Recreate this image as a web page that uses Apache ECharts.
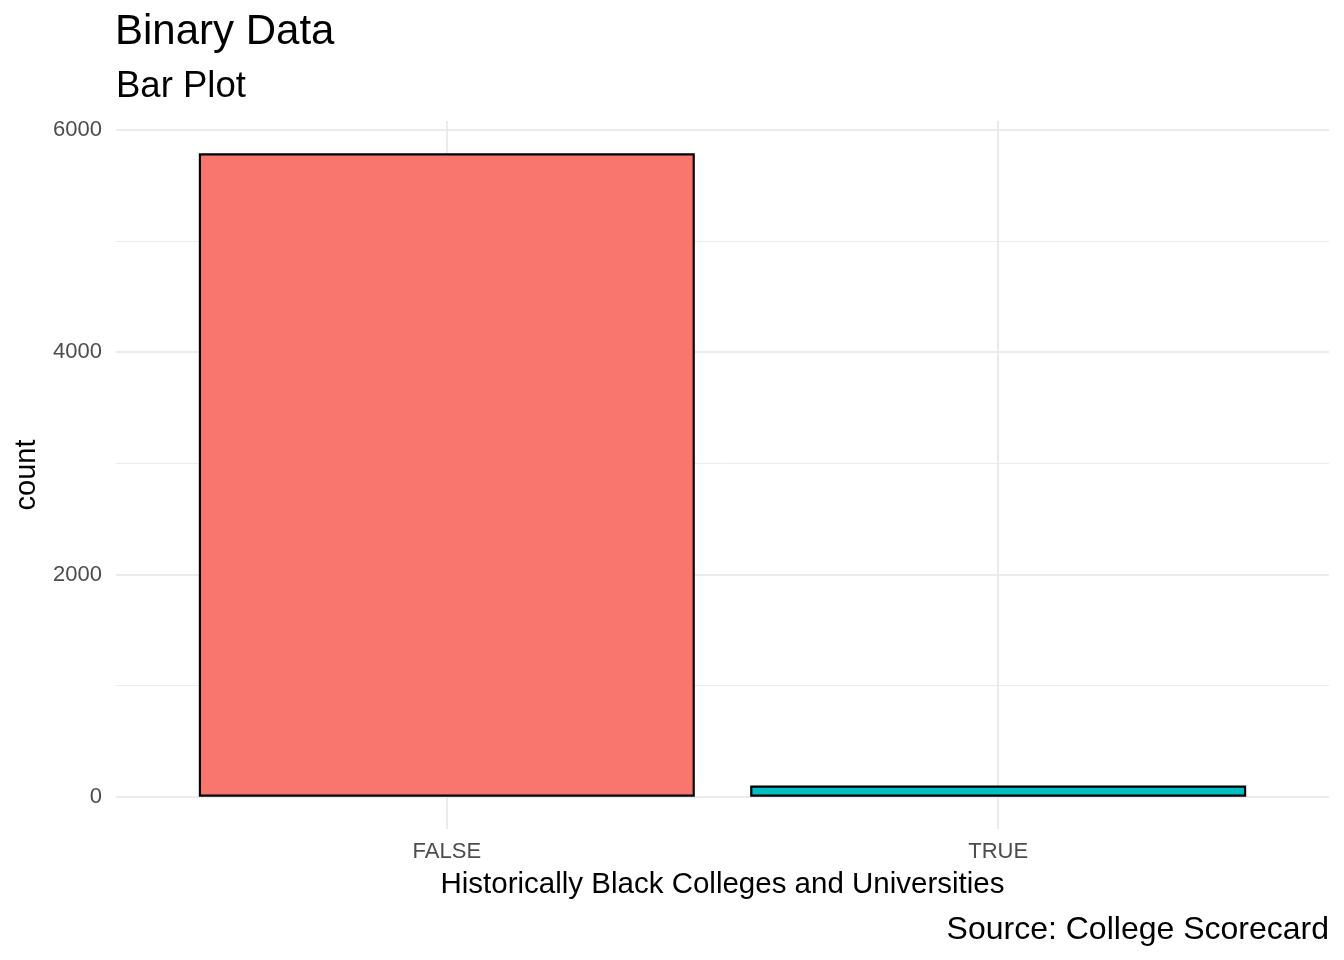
<!DOCTYPE html>
<html>
<head>
<meta charset="utf-8">
<title>Binary Data</title>
<script src="https://cdn.jsdelivr.net/npm/echarts@6/dist/echarts.min.js"></script>
<style>
  html, body { margin: 0; padding: 0; background: #fff; }
  #chart01 { width: 1344px; height: 960px; }
</style>
</head>
<body>
<div id="chart01"></div>
<script>
// data
var categories = ["FALSE", "TRUE"];
var counts = [5790, 101];
var yTicks = [0, 2000, 4000, 6000];
var yMinorTicks = [1000, 3000, 5000];

var fillColors = ["#F8766D", "#00BFC4"];
var font = "'Liberation Sans', Arial, sans-serif";

var myChart01 = echarts.init(document.getElementById('chart01'));

var barData = categories.map(function (c, i) {
    return {
        value: [i + 1, counts[i]],
        itemStyle: { color: fillColors[i] }
    };
});

// panel grid (major + minor), drawn behind the bars
var gridLines = [];
yTicks.forEach(function (v) {
    gridLines.push({ yAxis: v, lineStyle: { color: "#ebebeb", width: 2, type: "solid" } });
});
yMinorTicks.forEach(function (v) {
    gridLines.push({ yAxis: v, lineStyle: { color: "#ebebeb", width: 1, type: "solid" } });
});
categories.forEach(function (c, i) {
    gridLines.push({ xAxis: i + 1, lineStyle: { color: "#ebebeb", width: 2, type: "solid" } });
});

var option = {
    animation: false,
    textStyle: { fontFamily: font },
    title: [
        {
            text: "Binary Data", left: 115, top: 11, padding: 0,
            textStyle: { fontSize: 42, fontWeight: "normal", color: "#000", fontFamily: font }
        },
        {
            text: "Bar Plot", left: 116, top: 68, padding: 0,
            textStyle: { fontSize: 36.5, fontWeight: "normal", color: "#000", fontFamily: font }
        },
        {
            text: "Source: College Scorecard", right: 15, top: 914, padding: 0,
            textStyle: { fontSize: 32, fontWeight: "normal", color: "#000", fontFamily: font }
        }
    ],
    grid: { left: 116, right: 15, top: 121, bottom: 131, containLabel: false },
    xAxis: {
        type: "value",
        min: 0.4,
        max: 2.6,
        name: "Historically Black Colleges and Universities",
        nameLocation: "middle",
        nameGap: 41,
        nameTextStyle: { fontSize: 29.5, color: "#000", fontFamily: font },
        axisLine: { show: false },
        axisTick: { show: false },
        splitLine: { show: false },
        axisLabel: {
            customValues: [1, 2],
            formatter: function (v) { return categories[Math.round(v) - 1]; },
            fontSize: 22,
            color: "#4d4d4d",
            margin: 12,
            fontFamily: font
        }
    },
    yAxis: {
        type: "value",
        min: -290,
        max: 6080,
        name: "count",
        nameLocation: "middle",
        nameRotate: 90,
        nameGap: 75,
        nameTextStyle: { fontSize: 29, color: "#000", fontFamily: font },
        axisLine: { show: false },
        axisTick: { show: false },
        splitLine: { show: false },
        axisLabel: {
            customValues: yTicks,
            formatter: function (v) { return String(v); },
            fontSize: 22,
            color: "#4d4d4d",
            margin: 14,
            fontFamily: font
        }
    },
    series: [
        {
            type: "line",
            data: [[1, 0]],
            showSymbol: false,
            symbolSize: 0,
            lineStyle: { width: 0 },
            silent: true,
            z: 0,
            markLine: {
                silent: true,
                symbol: ["none", "none"],
                label: { show: false },
                animation: false,
                data: gridLines
            }
        },
        {
            type: "bar",
            data: barData,
            barWidth: 496,
            z: 5,
            itemStyle: { borderColor: "#000", borderWidth: 2.2 }
        }
    ]
};

myChart01.setOption(option);
</script>
</body>
</html>
